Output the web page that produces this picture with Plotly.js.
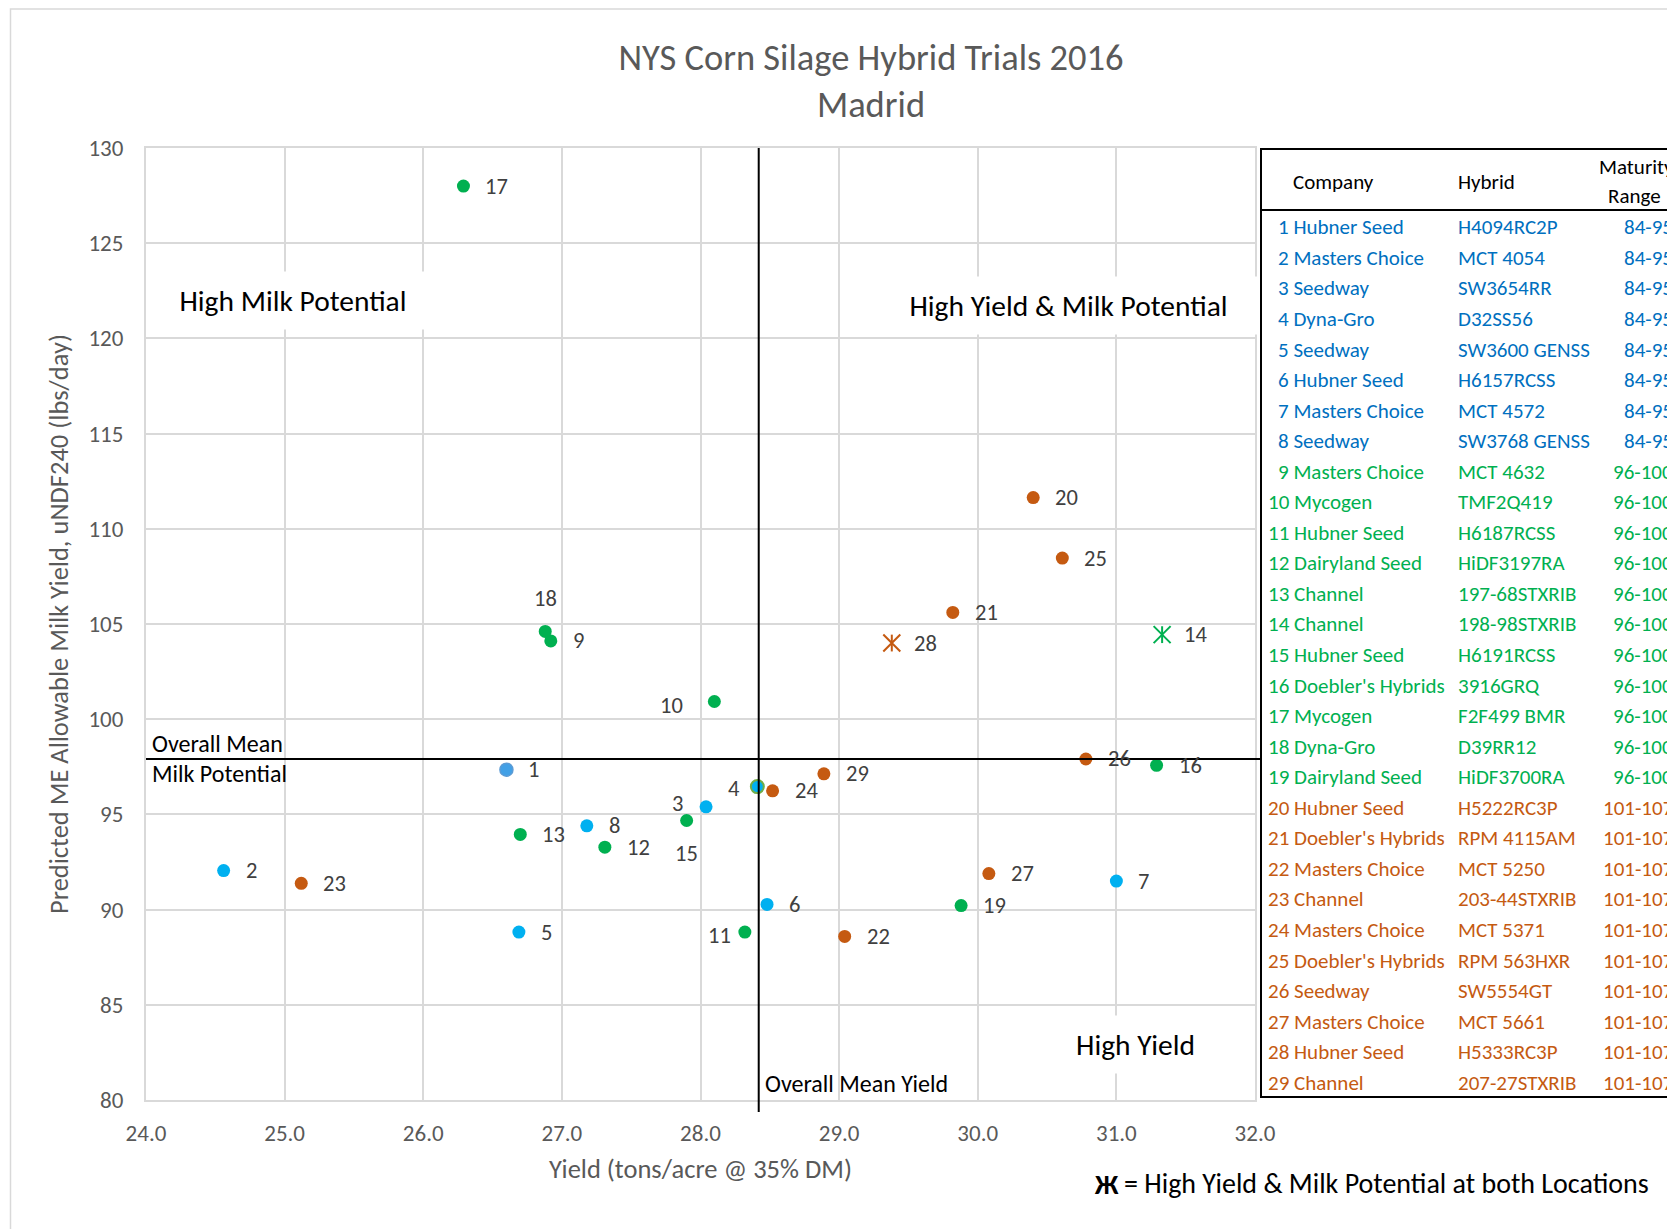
<!DOCTYPE html>
<html><head><meta charset="utf-8">
<script src="https://cdn.plot.ly/plotly-3.0.1.min.js"></script>
<style>html,body{margin:0;padding:0;background:#fff;overflow:hidden}</style>
</head><body><div id="chart" style="width:1667px;height:1229px"></div>
<script>
// ---------------- DATA ----------------
const ids = [1,2,3,4,5,6,7,8,9,10,11,12,13,14,15,16,17,18,19,20,21,22,23,24,25,26,27,28,29];
const companies = ["Hubner Seed","Masters Choice","Seedway","Dyna-Gro","Seedway","Hubner Seed","Masters Choice","Seedway",
  "Masters Choice","Mycogen","Hubner Seed","Dairyland Seed","Channel","Channel","Hubner Seed","Doebler's Hybrids","Mycogen","Dyna-Gro","Dairyland Seed",
  "Hubner Seed","Doebler's Hybrids","Masters Choice","Channel","Masters Choice","Doebler's Hybrids","Seedway","Masters Choice","Hubner Seed","Channel"];
const hybrids = ["H4094RC2P","MCT 4054","SW3654RR","D32SS56","SW3600 GENSS","H6157RCSS","MCT 4572","SW3768 GENSS",
  "MCT 4632","TMF2Q419","H6187RCSS","HiDF3197RA","197-68STXRIB","198-98STXRIB","H6191RCSS","3916GRQ","F2F499 BMR","D39RR12","HiDF3700RA",
  "H5222RC3P","RPM 4115AM","MCT 5250","203-44STXRIB","MCT 5371","RPM 563HXR","SW5554GT","MCT 5661","H5333RC3P","207-27STXRIB"];
const maturity = ["84-95","84-95","84-95","84-95","84-95","84-95","84-95","84-95",
  "96-100","96-100","96-100","96-100","96-100","96-100","96-100","96-100","96-100","96-100","96-100",
  "101-107","101-107","101-107","101-107","101-107","101-107","101-107","101-107","101-107","101-107"];
const yieldTons = [26.60,24.56,28.04,28.41,26.69,28.48,31.00,27.18,26.92,28.10,28.32,27.31,26.70,31.33,27.90,31.29,26.29,26.88,29.88,
  30.40,29.82,29.04,25.12,28.52,30.61,30.78,30.08,29.38,28.89];
const milkYield = [97.35,92.05,95.40,96.46,88.82,90.27,91.50,94.40,104.11,100.93,88.82,93.28,93.95,104.44,94.68,97.58,128.0,104.61,90.21,
  111.64,105.61,88.59,91.38,96.24,108.46,97.91,91.89,104.0,97.13];
const bothLocations = [14, 28];          // high yield & milk potential at both locations
const meanYield = 28.42;                 // overall mean yield
const meanMilk = 97.91;                  // overall mean milk potential
const maturityGroups = ["84-95","96-100","101-107"];
const xTickVals = [24,25,26,27,28,29,30,31,32];
const yTickVals = [80,85,90,95,100,105,110,115,120,125,130];

// ---------------- STYLE ----------------
const FONT = "Carlito, Lato, sans-serif";
const groupMarker = {"84-95":"#00B0F0","96-100":"#00B050","101-107":"#C55A11"};
const groupText = {"84-95":"#0070C0","96-100":"#00B050","101-107":"#C55A11"};
const pointStyle = {1:{color:"#42A0E6", line:"#5B9BD5", lw:1.5}, 4:{line:"#70AD47", lw:2}};
const labelPlacement = {
  18:{xanchor:"center", xshift:0, yshift:33},
  15:{xanchor:"center", xshift:0, yshift:-33},
  10:{xanchor:"right", xshift:-30, yshift:-4},
  3:{xanchor:"right", xshift:-22, yshift:3},
  4:{xanchor:"right", xshift:-16, yshift:-2},
  11:{xanchor:"right", xshift:-13, yshift:-3}
};

const W = 1667, H = 1229;
const M = {l:146, r:412, t:148, b:129};
const PW = W - M.l - M.r, PH = H - M.t - M.b;
const px = v => (v - M.l) / PW;
const py = v => 1 - (v - M.t) / PH;

// ---------------- TRACES ----------------
const traces = [];
const drawOrder = ["96-100","101-107","84-95"];
drawOrder.forEach(g => {
  const idx = ids.map((d,i)=>i).filter(i => maturity[i] === g && !bothLocations.includes(ids[i]));
  traces.push({
    type:"scatter", mode:"markers", cliponaxis:false, hoverinfo:"skip",
    x: idx.map(i=>yieldTons[i]), y: idx.map(i=>milkYield[i]),
    marker:{size:13,
      color: idx.map(i => (pointStyle[ids[i]] && pointStyle[ids[i]].color) || groupMarker[g]),
      line:{color: idx.map(i => (pointStyle[ids[i]] && pointStyle[ids[i]].line) || groupMarker[g]),
            width: idx.map(i => (pointStyle[ids[i]] && pointStyle[ids[i]].lw) || 0)}}
  });
});
const starIdx = ids.map((d,i)=>i).filter(i => bothLocations.includes(ids[i]));
[["x-thin-open",17],["line-ns-open",12]].forEach(([sym,sz]) => {
  traces.push({
    type:"scatter", mode:"markers", cliponaxis:false, hoverinfo:"skip",
    x: starIdx.map(i=>yieldTons[i]), y: starIdx.map(i=>milkYield[i]),
    marker:{symbol:sym, size:sz, color: starIdx.map(i=>groupMarker[maturity[i]]),
      line:{width:2, color: starIdx.map(i=>groupMarker[maturity[i]])}}
  });
});

// ---------------- ANNOTATIONS ----------------
const ann = [];
ids.forEach((id,i) => {
  const p = labelPlacement[id] || {xanchor:"left", xshift:21, yshift:0};
  ann.push({x:yieldTons[i], y:milkYield[i], xref:"x", yref:"y", text:String(id), showarrow:false,
    xanchor:p.xanchor, yanchor:"middle", xshift:p.xshift, yshift:p.yshift, borderpad:0,
    font:{family:FONT, size:22.5, color:"#404040"}});
});
// quadrant labels
const quad = {family:FONT, size:29.5, color:"#000"};
ann.push({x:25.06, y:121.97, xref:"x", yref:"y", text:"High Milk Potential", showarrow:false,
  bgcolor:"#fff", width:270, height:55, font:quad});
ann.push({x:30.658, y:121.75, xref:"x", yref:"y", text:"High Yield & Milk Potential", showarrow:false,
  bgcolor:"#fff", width:375, height:55, font:quad});
ann.push({x:31.137, y:82.94, xref:"x", yref:"y", text:"High Yield", showarrow:false,
  bgcolor:"#fff", width:165, height:55, font:quad});
const meanFont = {family:FONT, size:24, color:"#000"};
ann.push({x:px(151), y:py(743), xref:"paper", yref:"paper", text:"Overall Mean", showarrow:false,
  xanchor:"left", yanchor:"middle", borderpad:0, font:meanFont});
ann.push({x:px(151), y:py(773), xref:"paper", yref:"paper", text:"Milk Potential", showarrow:false,
  xanchor:"left", yanchor:"middle", borderpad:0, font:meanFont});
ann.push({x:px(764), y:py(1083), xref:"paper", yref:"paper", text:"Overall Mean Yield", showarrow:false,
  xanchor:"left", yanchor:"middle", borderpad:0, font:meanFont});

// table
const tblFont = c => ({family:FONT, size:21, color:c});
ann.push({x:px(1333), y:py(182), xref:"paper", yref:"paper", text:"Company", showarrow:false,
  xanchor:"center", yanchor:"middle", borderpad:0, font:tblFont("#000")});
ann.push({x:px(1457), y:py(182), xref:"paper", yref:"paper", text:"Hybrid", showarrow:false,
  xanchor:"left", yanchor:"middle", borderpad:0, font:tblFont("#000")});
ann.push({x:px(1636), y:py(167), xref:"paper", yref:"paper", text:"Maturity", showarrow:false,
  xanchor:"center", yanchor:"middle", borderpad:0, font:tblFont("#000")});
ann.push({x:px(1634), y:py(196), xref:"paper", yref:"paper", text:"Range", showarrow:false,
  xanchor:"center", yanchor:"middle", borderpad:0, font:tblFont("#000")});
ids.forEach((id,i) => {
  const yy = py(227.3 + i*30.55);
  const c = groupText[maturity[i]];
  ann.push({x:px(id < 10 ? 1277 : 1267), y:yy, xref:"paper", yref:"paper", text:id + " " + companies[i],
    showarrow:false, xanchor:"left", yanchor:"middle", borderpad:0, font:tblFont(c)});
  ann.push({x:px(1457), y:yy, xref:"paper", yref:"paper", text:hybrids[i],
    showarrow:false, xanchor:"left", yanchor:"middle", borderpad:0, font:tblFont(c)});
  ann.push({x:px(1674), y:yy, xref:"paper", yref:"paper", text:maturity[i],
    showarrow:false, xanchor:"right", yanchor:"middle", borderpad:0, font:tblFont(c)});
});
// footnote
ann.push({x:px(1093), y:py(1184), xref:"paper", yref:"paper", text:"<b>Ж</b>", showarrow:false,
  xanchor:"left", yanchor:"middle", borderpad:0, font:{family:FONT, size:28, color:"#000"}});
ann.push({x:px(1123), y:py(1183), xref:"paper", yref:"paper", text:"= High Yield & Milk Potential at both Locations", showarrow:false,
  xanchor:"left", yanchor:"middle", borderpad:0, font:{family:FONT, size:28, color:"#000"}});

// ---------------- SHAPES ----------------
const shapes = [
  // outer chart border
  {type:"rect", xref:"paper", yref:"paper", x0:px(10.5), x1:px(1700), y0:py(9), y1:py(1300),
   line:{color:"#D9D9D9", width:1.5}, layer:"below"},
  // mean lines
  {type:"line", xref:"paper", yref:"y", x0:0, x1:px(1260), y0:meanMilk, y1:meanMilk, line:{color:"#000", width:2}},
  {type:"line", xref:"x", yref:"paper", x0:meanYield, x1:meanYield, y0:1, y1:py(1112), line:{color:"#000", width:2}},
  // table border
  {type:"rect", xref:"paper", yref:"paper", x0:px(1261), x1:px(1700), y0:py(149), y1:py(1097),
   line:{color:"#000", width:2}},
  {type:"line", xref:"paper", yref:"paper", x0:px(1261), x1:px(1700), y0:py(210), y1:py(210),
   line:{color:"#000", width:2}}
];

const layout = {
  width:W, height:H, margin:M, paper_bgcolor:"#fff", plot_bgcolor:"#fff", showlegend:false,
  font:{family:FONT, color:"#595959"},
  title:{text:"NYS Corn Silage Hybrid Trials 2016<br>Madrid", x:871/W, xanchor:"center", xref:"container",
    y:1 - 70/H, yanchor:"middle", yref:"container", font:{family:FONT, size:36.5, color:"#595959"}},
  xaxis:{range:[24,32], tickvals:xTickVals, tickformat:".1f", showgrid:true, gridcolor:"#D9D9D9", gridwidth:2,
    zeroline:false, showline:true, linecolor:"#D9D9D9", linewidth:2, mirror:true, ticks:"",
    tickfont:{family:FONT, size:23, color:"#595959"}, ticklabelstandoff:11,
    title:{text:"Yield (tons/acre @ 35% DM)", standoff:14, font:{family:FONT, size:26.5, color:"#595959"}}},
  yaxis:{range:[80,130], tickvals:yTickVals, showgrid:true, gridcolor:"#D9D9D9", gridwidth:2,
    zeroline:false, showline:true, linecolor:"#D9D9D9", linewidth:2, mirror:true, ticks:"",
    tickfont:{family:FONT, size:23, color:"#595959"}, ticklabelstandoff:16,
    title:{text:"Predicted ME Allowable Milk Yield, uNDF240 (lbs/day)", standoff:12, font:{family:FONT, size:26.5, color:"#595959"}}},
  annotations:ann, shapes:shapes
};
Plotly.newPlot("chart", traces, layout, {displayModeBar:false, staticPlot:true});
</script></body></html>
